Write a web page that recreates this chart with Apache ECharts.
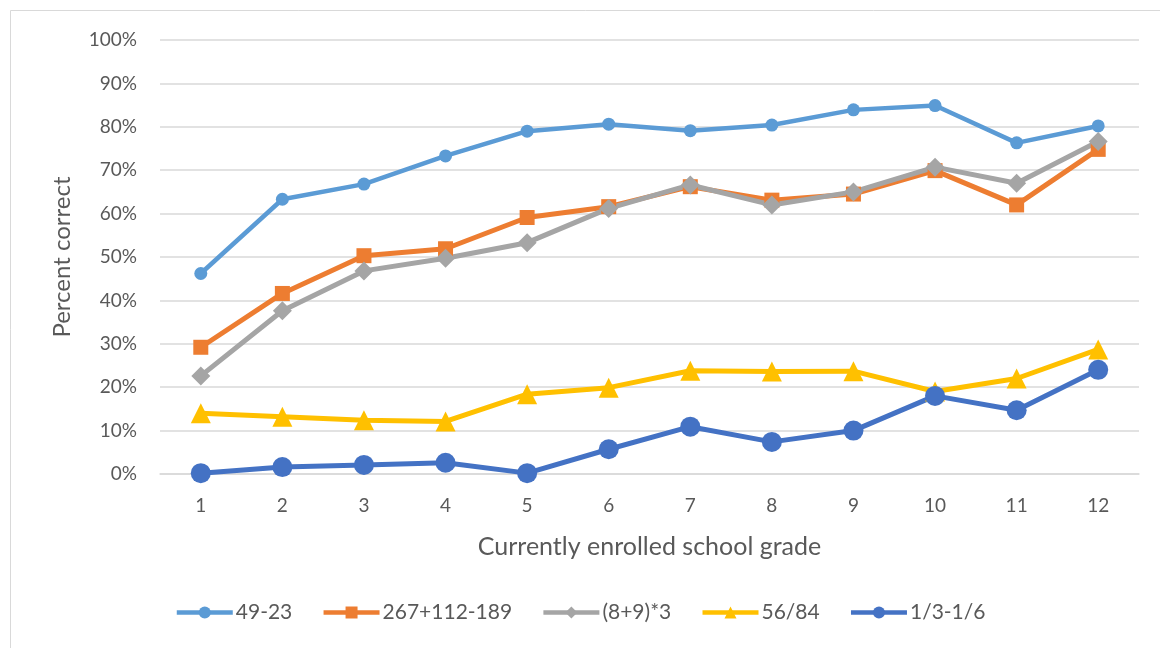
<!DOCTYPE html>
<html>
<head>
<meta charset="utf-8">
<script src="https://cdn.jsdelivr.net/npm/echarts@6/dist/echarts.min.js"></script>
<style>
  html, body { margin: 0; padding: 0; background: #fff; }
  #chart { width: 1160px; height: 648px; }
</style>
</head>
<body>
<div id="chart"></div>
<script>
// school grades on the x axis
const grades = ['1', '2', '3', '4', '5', '6', '7', '8', '9', '10', '11', '12']

// percent correct per question
const q4923 = [46.2, 63.3, 66.8, 73.3, 79.0, 80.6, 79.1, 80.4, 83.9, 84.9, 76.3, 80.2]
const qSum = [29.2, 41.6, 50.3, 51.9, 59.1, 61.6, 66.2, 63.1, 64.5, 69.9, 62.0, 74.8]
const qMul = [22.6, 37.6, 46.8, 49.7, 53.3, 61.2, 66.6, 62.0, 65.0, 70.7, 67.0, 76.6]
const qDiv = [14.0, 13.2, 12.4, 12.1, 18.4, 19.9, 23.8, 23.6, 23.7, 19.0, 22.0, 28.7]
const qFrac = [0.2, 1.6, 2.1, 2.6, 0.2, 5.7, 10.9, 7.4, 10.0, 18.0, 14.7, 24.0]

const chart = echarts.init(document.getElementById('chart'))
const font = 'Lato, "Open Sans", sans-serif'
const textColor = '#595959'

// helper for one line series
function line(name, data, color, symbol, size, width) {
    return {
        name: name,
        type: 'line',
        data: data,
        symbol: symbol,
        symbolSize: size,
        itemStyle: { color: color },
        lineStyle: { color: color, width: width },
        emphasis: { disabled: true },
        z: 3
    }
}

chart.setOption({
    animation: false,
    backgroundColor: '#fff',
    graphic: [{
        type: 'rect',
        shape: { x: 10.5, y: 10.5, width: 1200, height: 700 },
        style: { fill: 'none', stroke: '#d9d9d9', lineWidth: 1 },
        silent: true
    }],
    grid: { left: 160, right: 21, top: 40, bottom: 174 },
    legend: {
        bottom: 20,
        left: 'center',
        itemWidth: 56,
        itemHeight: 15,
        itemGap: 29,
        lineStyle: { width: 4.5 },
        textStyle: { color: textColor, fontSize: 21, fontFamily: font, padding: [0, 0, 0, -2] },
        data: ['49-23', '267+112-189', '(8+9)*3', '56/84', '1/3-1/6']
    },
    xAxis: {
        type: 'category',
        data: grades,
        name: 'Currently enrolled school grade',
        nameLocation: 'middle',
        nameGap: 60,
        nameTextStyle: { color: textColor, fontSize: 25, fontFamily: font },
        axisLine: { show: true, lineStyle: { color: '#d9d9d9', width: 1.5 } },
        axisTick: { show: false },
        axisLabel: { color: textColor, fontSize: 19, fontFamily: font, margin: 22 }
    },
    yAxis: {
        type: 'value',
        min: 0,
        max: 100,
        interval: 10,
        name: 'Percent correct',
        nameLocation: 'middle',
        nameGap: 86,
        nameTextStyle: { color: textColor, fontSize: 24, fontFamily: font },
        axisLabel: {
            color: textColor, fontSize: 19, fontFamily: font, margin: 23,
            formatter: v => v + '%'
        },
        splitLine: { lineStyle: { color: '#d9d9d9', width: 1.5 } }
    },
    series: [
        line('49-23', q4923, '#5B9BD5', 'circle', 13, 4.5),
        line('267+112-189', qSum, '#ED7D31', 'rect', 15, 5),
        line('(8+9)*3', qMul, '#A5A5A5', 'diamond', 19, 5),
        line('56/84', qDiv, '#FFC000', 'triangle', 20, 5),
        line('1/3-1/6', qFrac, '#4472C4', 'circle', 20, 5)
    ]
})
</script>
</body>
</html>
